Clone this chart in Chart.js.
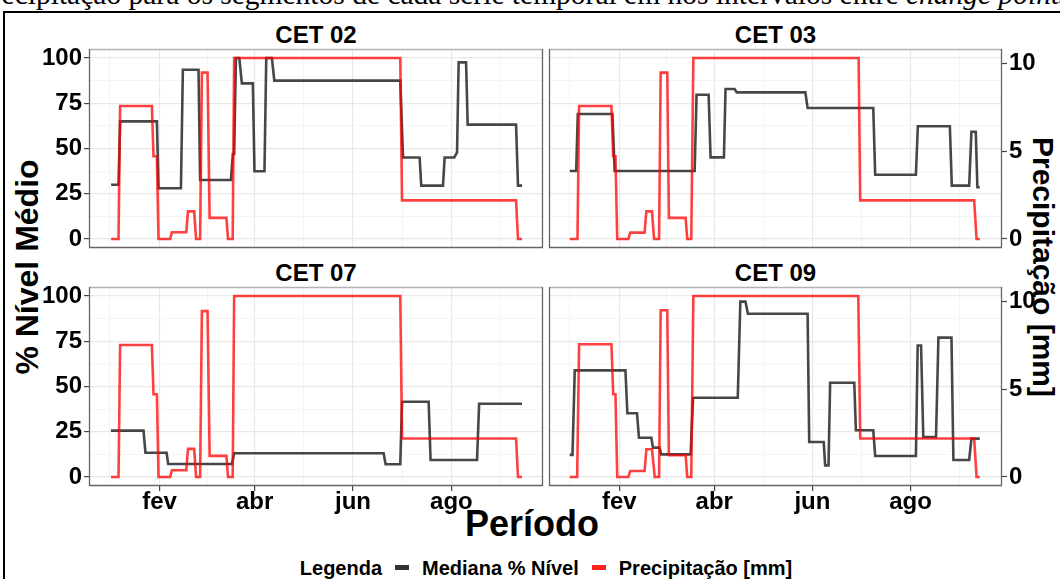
<!DOCTYPE html>
<html><head><meta charset="utf-8">
<script src="https://cdn.jsdelivr.net/npm/chart.js@4.4.1/dist/chart.umd.min.js"></script>
<style>
html,body{margin:0;padding:0;}
body{width:1060px;height:579px;overflow:hidden;background:#fff;position:relative;font-family:"Liberation Sans",Arial,sans-serif;}
canvas{position:absolute;}
#caption{position:absolute;left:-23px;top:-20px;font-family:"Liberation Serif","Times New Roman",serif;font-size:29.5px;line-height:29.5px;white-space:nowrap;color:#000;}
#frame{position:absolute;left:3px;top:11px;width:1080px;height:620px;border:2px solid #000;box-sizing:border-box;}
.strip{position:absolute;text-align:center;font-weight:bold;font-size:24px;line-height:24px;color:#000;}
.atitle{position:absolute;font-weight:bold;color:#000;white-space:nowrap;}
#legend{position:absolute;left:16px;width:1060px;top:556px;text-align:center;font-weight:bold;font-size:20px;line-height:24px;white-space:nowrap;}
.key{display:inline-block;width:14px;height:5px;vertical-align:middle;margin:0 13px 0 13px;position:relative;top:-2px;}
</style></head><body>
<div id="caption">precipitação para os segmentos de cada série temporal em nos intervalos entre <i>change points</i></div>
<div id="frame"></div>
<div class="strip" style="left:89px;width:454px;top:23px">CET 02</div>
<div class="strip" style="left:549px;width:453px;top:23px">CET 03</div>
<div class="strip" style="left:89px;width:454px;top:261px">CET 07</div>
<div class="strip" style="left:549px;width:453px;top:261px">CET 09</div>
<div class="atitle" style="left:27px;top:267px;font-size:32px;transform:translate(-50%,-50%) rotate(-90deg);">% Nível Médio</div>
<div class="atitle" style="left:1043px;top:267px;font-size:30px;transform:translate(-50%,-50%) rotate(90deg);">Precipitação [mm]</div>
<div class="atitle" style="left:532px;top:524px;font-size:36px;transform:translate(-50%,-50%);">Período</div>
<div id="legend">Legenda<span class="key" style="background:#333"></span>Mediana % Nível<span class="key" style="background:#ff2020"></span>Precipitação [mm]</div>
<canvas id="c02"></canvas><canvas id="c03"></canvas><canvas id="c07"></canvas><canvas id="c09"></canvas>
<script>
// ---- axis breaks (day of year, Jan 1 = 1) ----
const monthDays = [32, 91, 152, 213];
const monthLabels = ['fev', 'abr', 'jun', 'ago'];
const minorDays = [1, 61.5, 121.5, 182.5, 243.5];
const levelTicks = [0, 25, 50, 75, 100];
const levelMinor = [12.5, 37.5, 62.5, 87.5];
const rainTicks = [0, 5, 10];

// ---- CET 02 ----
const cet02Days  = [2, 6.6, 7.6, 30.4, 31.4, 45.3, 46.5, 56.2, 57.2, 76.3, 77.5, 78.3, 79.4, 81.5, 83.1, 89.9, 90.9, 97.1, 98.2, 101.7, 103.2, 181.3, 183, 193.3, 194.3, 207.8, 208.8, 214.8, 216.5, 217.5, 222.1, 223.1, 253.1, 254.3, 256.8];
const cet02Level = [30, 30, 65, 65, 28, 28, 93.5, 93.5, 32.6, 32.6, 47, 47, 100, 100, 86, 86, 37.4, 37.4, 100, 100, 87.5, 87.5, 45, 45, 29.5, 29.5, 45, 45, 47.9, 97.6, 97.6, 63.2, 63.2, 29.5, 29.5];
const cet02RainDays = [2, 6.6, 7.6, 27.3, 28.3, 30.4, 31.4, 38.6, 39.7, 48.6, 49.7, 53.5, 54.7, 57.2, 58.3, 61.8, 63.1, 73.5, 74.5, 77.4, 78.3, 181.3, 182.4, 253.1, 254.3, 256.8];
const cet02Rain     = [0, 0, 7.58, 7.58, 4.71, 4.71, 0, 0, 0.38, 0.38, 1.57, 1.57, 0, 0, 9.48, 9.48, 1.2, 1.2, 0, 0, 10.31, 10.31, 2.2, 2.2, 0, 0];

// ---- CET 03 ----
const cet03Days  = [1.2, 5.2, 6.2, 27.7, 29.1, 78.8, 80, 87.5, 88.7, 97, 98, 103.6, 105, 147.6, 149, 189.8, 191, 216.3, 217.5, 237.4, 238.6, 249.4, 250.8, 253.5, 254.5, 256];
const cet03Level = [37.6, 37.6, 69.1, 69.1, 37.6, 37.6, 79.7, 79.7, 45.1, 45.1, 82.9, 82.9, 81, 81, 72.4, 72.4, 35.5, 35.5, 62.3, 62.3, 29.5, 29.5, 59.3, 59.3, 28.6, 28.6];
const cet03RainDays = [1.2, 6, 7, 27.1, 28.2, 29.6, 30.7, 37.6, 38.8, 47.7, 48.8, 52.3, 53.6, 56.7, 57.7, 61.8, 62.8, 73.2, 74.2, 76.7, 78, 180.7, 181.7, 252.5, 254, 256];
const cet03Rain     = [0, 0, 7.58, 7.58, 4.71, 4.71, 0, 0, 0.36, 0.36, 1.57, 1.57, 0, 0, 9.48, 9.48, 1.2, 1.2, 0, 0, 10.31, 10.31, 2.2, 2.2, 0, 0];

// ---- CET 07 ----
const cet07Days  = [1.9, 22.1, 23.3, 36.4, 37.4, 76.9, 78.3, 171, 172.2, 181.3, 182.4, 198.9, 200.1, 228.9, 230.2, 256.8];
const cet07Level = [25.6, 25.6, 13.4, 13.4, 7.2, 7.2, 13.1, 13.1, 7, 7, 41.6, 41.6, 9.4, 9.4, 40.5, 40.5];
const cet07RainDays = [1.9, 6.6, 7.6, 27.3, 28.3, 30.4, 31.4, 38.6, 39.7, 48.6, 49.7, 53.5, 54.7, 57.2, 58.3, 61.8, 63.1, 73.5, 74.5, 77.4, 78.3, 181.3, 182.4, 253.1, 254.3, 256.8];
const cet07Rain     = [0, 0, 7.52, 7.52, 4.71, 4.71, 0, 0, 0.38, 0.38, 1.6, 1.6, 0, 0, 9.45, 9.45, 1.2, 1.2, 0, 0, 10.31, 10.31, 2.19, 2.19, 0, 0];

// ---- CET 09 ----
const cet09Days  = [1.2, 2.9, 4.3, 35.8, 37, 43, 44.2, 51.9, 52.9, 57, 58, 76.3, 77.8, 105.6, 107.2, 110.4, 111.9, 149, 150, 159, 159.9, 162, 163, 178, 179, 189.8, 191, 216.3, 217.4, 219.5, 220.9, 228.8, 230.3, 238.4, 239.6, 249.4, 250.8, 256];
const cet09Level = [12.2, 12.2, 58.9, 58.9, 35.2, 35.2, 21.7, 21.7, 16.2, 16.2, 12.5, 12.5, 43.8, 43.8, 96.9, 96.9, 90.2, 90.2, 19.3, 19.3, 6.4, 6.4, 52.1, 52.1, 25.8, 25.8, 11.6, 11.6, 72.7, 72.7, 22.1, 22.1, 77, 77, 9.4, 9.4, 21.2, 21.2];
const cet09RainDays = [1.2, 5.8, 7, 27.1, 28.2, 29.6, 30.7, 37.6, 38.8, 47.7, 48.8, 52.3, 54, 56.7, 57.7, 61.8, 62.8, 73.2, 74.2, 76.7, 78, 180.5, 181.7, 252.5, 254, 256];
const cet09Rain     = [0, 0, 7.56, 7.56, 4.71, 4.71, 0, 0, 0.34, 0.34, 1.58, 1.58, 0, 0, 9.5, 9.5, 1.24, 1.24, 0, 0, 10.31, 10.31, 2.19, 2.19, 0, 0];

// ---- scale setup ----
const rainScale = 9.7;          // level units per mm (secondary axis)
const xMin = -11.7, xMax = 269.8;
const P = 20;
const FONT = {family: '"Liberation Sans", Arial, sans-serif', weight: 'bold', size: 24};

function pts(xs, ys) { return xs.map((x, i) => ({x: x, y: ys[i]})); }

const borderPlugin = {
  id: 'panelBorder',
  afterDraw(chart) {
    const a = chart.chartArea, c = chart.ctx;
    c.save();
    c.lineWidth = 1.3;
    c.strokeStyle = '#b3b3b3';
    c.beginPath(); c.moveTo(a.left, a.top + 0.5); c.lineTo(a.right, a.top + 0.5); c.stroke();
    c.strokeStyle = '#666';
    c.beginPath();
    c.moveTo(a.left + 0.5, a.top); c.lineTo(a.left + 0.5, a.bottom - 0.5);
    c.lineTo(a.right - 0.5, a.bottom - 0.5); c.lineTo(a.right - 0.5, a.top);
    c.stroke();
    c.restore();
  }
};

function makePanel(id, box, days, level, rainDays, rain, showLeft, showRight, showBottom) {
  const lw = showLeft ? 89 : 0, rw = showRight ? 58 : 0, bh = showBottom ? 34 : 0;
  const cv = document.getElementById(id);
  const W = box.w + lw + rw + 2 * P, H = box.h + bh + 2 * P;
  cv.style.left = (box.x - lw - P) + 'px';
  cv.style.top = (box.y - P) + 'px';
  cv.style.width = W + 'px'; cv.style.height = H + 'px';
  cv.width = W; cv.height = H;
  new Chart(cv, {
    type: 'line',
    data: {
      datasets: [
        {label: 'Precipitação [mm]', data: pts(rainDays, rain), yAxisID: 'y1', borderColor: 'rgba(255,0,0,0.75)', borderWidth: 2.6, pointRadius: 0, tension: 0, order: 0},
        {label: 'Mediana % Nível', data: pts(days, level), yAxisID: 'y', borderColor: 'rgba(0,0,0,0.72)', borderWidth: 2.6, pointRadius: 0, tension: 0, order: 1}
      ]
    },
    options: {
      responsive: false, animation: false, devicePixelRatio: 1,
      layout: {padding: {left: P, right: P, top: P, bottom: P}},
      plugins: {legend: {display: false}, tooltip: {enabled: false}},
      scales: {
        x: {
          type: 'linear', min: xMin, max: xMax,
          afterBuildTicks: s => { s.ticks = monthDays.concat(minorDays).sort((a, b) => a - b).map(v => ({value: v})); },
          afterFit: s => { s.height = bh; },
          border: {display: false},
          grid: {
            color: c => monthDays.includes(c.tick.value) ? '#e8e8e8' : '#f3f3f3',
            lineWidth: c => monthDays.includes(c.tick.value) ? 1.2 : 0.8,
            drawTicks: showBottom, tickLength: 5,
            tickColor: c => monthDays.includes(c.tick.value) ? '#444' : 'rgba(0,0,0,0)', tickWidth: 1.2
          },
          ticks: {
            display: showBottom, autoSkip: false, maxRotation: 0, padding: -3, color: '#000', font: FONT,
            callback: v => { const i = monthDays.indexOf(v); return i >= 0 ? monthLabels[i] : ''; }
          }
        },
        y: {
          type: 'linear', position: 'left', min: -5, max: 105,
          afterBuildTicks: s => { s.ticks = levelTicks.concat(levelMinor).sort((a, b) => a - b).map(v => ({value: v})); },
          afterFit: s => { s.width = lw; },
          border: {display: false},
          grid: {
            color: c => levelTicks.includes(c.tick.value) ? '#e8e8e8' : '#f3f3f3',
            lineWidth: c => levelTicks.includes(c.tick.value) ? 1.2 : 0.8,
            drawTicks: showLeft, tickLength: 5,
            tickColor: c => levelTicks.includes(c.tick.value) ? '#444' : 'rgba(0,0,0,0)', tickWidth: 1.2
          },
          ticks: {
            display: showLeft, autoSkip: false, padding: 2, color: '#000', font: FONT,
            callback: v => levelTicks.includes(v) ? String(v) : ''
          }
        },
        y1: {
          type: 'linear', position: 'right', min: -5 / rainScale, max: 105 / rainScale,
          display: showRight,
          afterBuildTicks: s => { s.ticks = rainTicks.map(v => ({value: v})); },
          afterFit: s => { s.width = rw; },
          border: {display: false},
          grid: {drawOnChartArea: false, drawTicks: true, tickLength: 5, tickColor: '#444', tickWidth: 1.2},
          ticks: {autoSkip: false, padding: 2, color: '#000', font: FONT, callback: v => String(v)}
        }
      }
    },
    plugins: [borderPlugin]
  });
}

makePanel('c02', {x: 89, y: 49, w: 454, h: 199}, cet02Days, cet02Level, cet02RainDays, cet02Rain, true, false, false);
makePanel('c03', {x: 549, y: 49, w: 453, h: 199}, cet03Days, cet03Level, cet03RainDays, cet03Rain, false, true, false);
makePanel('c07', {x: 89, y: 287, w: 454, h: 199}, cet07Days, cet07Level, cet07RainDays, cet07Rain, true, false, true);
makePanel('c09', {x: 549, y: 287, w: 453, h: 199}, cet09Days, cet09Level, cet09RainDays, cet09Rain, false, true, true);
</script>
</body></html>
